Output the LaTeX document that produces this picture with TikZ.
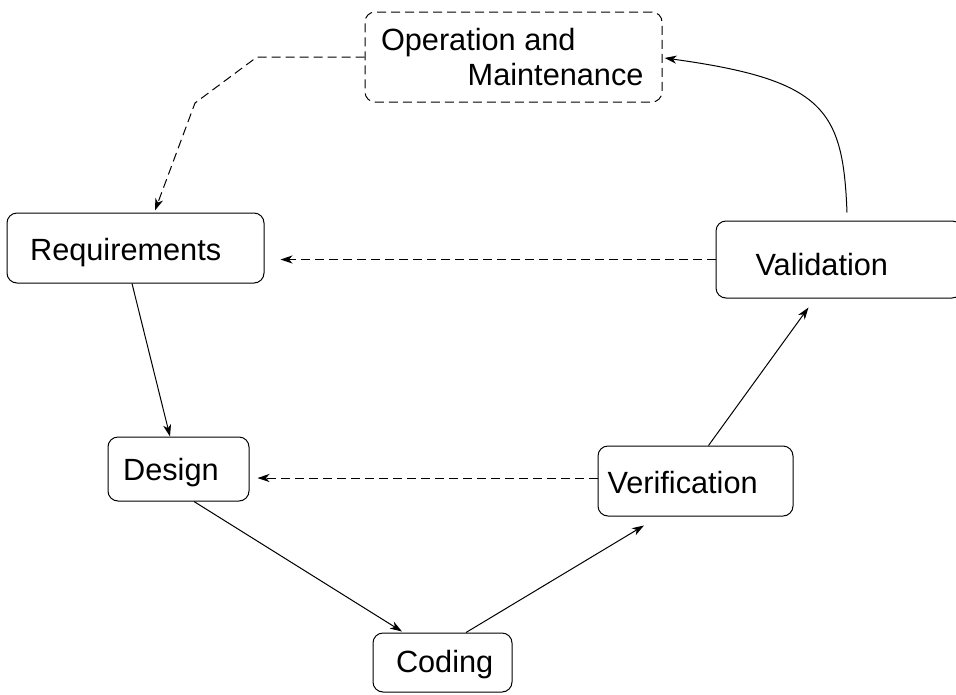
\documentclass[tikz,border=0pt]{standalone}
\usepackage{fontspec}
\setmainfont{Liberation Sans}
\usetikzlibrary{arrows.meta,calc}
\begin{document}
\begin{tikzpicture}[x=1pt,y=-1pt,
  line width=1pt,
  box/.style={draw, rounded corners=10pt, inner sep=0pt, line width=1pt},
  txt/.style={inner sep=0pt, font=\fontsize{30.7}{36}\selectfont},
  arr/.style={-{Stealth[length=12pt,width=8pt,inset=3.5pt]}},
  dsh/.style={dash pattern=on 9pt off 5pt}]
\useasboundingbox (0,0) rectangle (956,694);
\clip (0,0) rectangle (956,694);
% boxes
\node[box, dsh, minimum width=297pt, minimum height=90pt] (om) at (513.5,57) {};
\node[box, minimum width=257pt, minimum height=70pt] (req) at (135.5,248) {};
\node[box, minimum width=246pt, minimum height=77pt] (val) at (839,259.5) {};
\node[box, minimum width=141pt, minimum height=64pt] (des) at (178.5,469) {};
\node[box, minimum width=195pt, minimum height=70pt] (ver) at (695.5,481) {};
\node[box, minimum width=139pt, minimum height=59pt] (cod) at (442.5,662.5) {};
% texts
\node[txt, anchor=base west] (tom1) at (380.5,50) {Operation and};
\node[txt, anchor=base east] (tom2) at (644,85) {Maintenance};
\node[txt, anchor=base west] (treq) at (29.6,260) {Requirements};
\node[txt, anchor=base west] (tval) at (755,275) {Validation};
\node[txt, anchor=base west] (tdes) at (122.6,480) {Design};
\node[txt, anchor=base west] (tver) at (607,493) {Verification};
\node[txt, anchor=base west] (tcod) at (395.5,672) {Coding};
% bend points and ends
\coordinate (b1) at (257,57);
\coordinate (b2) at (195,103);
\coordinate (vw) at ($(ver.west)+(0,-3)$);
% connectors
\draw[arr, dsh] (om.west) -- (b1) -- (b2) -- ($(req.north)+(19.5,-2)$);
\draw[arr, dsh, shorten >=16pt] (val.west) -- (val.west -| req.east);
\draw[arr, dsh, shorten >=8pt] (vw) -- (vw -| des.east);
\draw[arr] ($(req.south)+(-3.5,0)$) -- ($(des.north)+(-8.5,0)$);
\draw[arr] ($(des.south)+(15.5,0)$) -- ($(cod.north)+(-40.5,-1)$);
\draw[arr] ($(cod.north)+(23.5,0)$) -- ($(ver.south)+(-51.5,9)$);
\draw[arr] ($(ver.north)+(13,0)$) -- ($(val.south)+(-30.5,9)$);
\draw[arr] ($(val.north)+(8,-8)$) .. controls (843,110) and (825,80) .. ($(om.east)+(2,1)$);
\end{tikzpicture}
\end{document}
